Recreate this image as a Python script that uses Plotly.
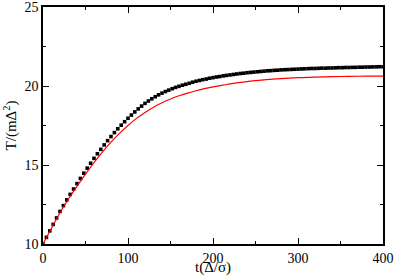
import plotly.graph_objects as go

# black squares (simulation), t step 4
t_black = list(range(0, 401, 4))
T_black = [
    10.00, 10.42, 10.83, 11.24, 11.65, 12.06, 12.43, 12.79, 13.14, 13.48,
    13.82, 14.15, 14.48, 14.80, 15.11, 15.42, 15.71, 15.99, 16.27, 16.54,
    16.80, 17.05, 17.29, 17.52, 17.74, 17.96, 18.16, 18.36, 18.55, 18.73,
    18.90, 19.05, 19.19, 19.32, 19.44, 19.55, 19.65, 19.74, 19.83, 19.91,
    19.98, 20.05, 20.11, 20.17, 20.24, 20.30, 20.35, 20.40, 20.44, 20.49,
    20.53, 20.57, 20.60, 20.64, 20.67, 20.70, 20.73, 20.76, 20.79, 20.81,
    20.84, 20.86, 20.88, 20.90, 20.92, 20.94, 20.96, 20.97, 20.99, 21.00,
    21.02, 21.03, 21.04, 21.05, 21.06, 21.07, 21.08, 21.09, 21.10, 21.11,
    21.11, 21.12, 21.13, 21.13, 21.14, 21.14, 21.15, 21.16, 21.16, 21.17,
    21.17, 21.18, 21.18, 21.19, 21.19, 21.20, 21.20, 21.21, 21.21, 21.22,
    21.22,
]

# red line (theory)
t_red = [0, 10, 20, 30, 40, 50, 60, 70, 80, 90, 100, 110, 120, 130, 140, 150, 160, 170,
         180, 190, 200, 210, 220, 230, 240, 250, 260, 270, 280, 290, 300, 320, 340, 360, 380, 400]
T_red = [10.00, 11.00, 11.98, 12.85, 13.65, 14.42, 15.15, 15.83, 16.45, 17.00, 17.50,
         17.95, 18.33, 18.66, 18.94, 19.18, 19.38, 19.55, 19.70, 19.83, 19.94, 20.04,
         20.13, 20.21, 20.28, 20.34, 20.39, 20.43, 20.47, 20.50, 20.53, 20.56, 20.59,
         20.61, 20.62, 20.63]

x_ticks = [0, 100, 200, 300, 400]
y_ticks = [10, 15, 20, 25]

fig = go.Figure()
fig.add_trace(go.Scatter(x=t_black, y=T_black, mode="markers",
                         marker=dict(symbol="square", size=3.6, color="black", line=dict(width=0)),
                         showlegend=False))
fig.add_trace(go.Scatter(x=t_red, y=T_red, mode="lines",
                         line=dict(color="#ff0000", width=1.2, shape="spline"),
                         showlegend=False))

font = dict(family="Liberation Serif", size=14, color="black")
axis_common = dict(showline=True, linecolor="black", linewidth=1.5, mirror="allticks",
                   ticks="inside", ticklen=6, tickwidth=1.2, tickcolor="black",
                   showgrid=False, zeroline=False, tickfont=font,
                   automargin=False, ticklabeloverflow="allow")
fig.update_xaxes(range=[0, 400], tickvals=x_ticks, ticktext=[str(v) for v in x_ticks],
                 minor=dict(dtick=50, tick0=0, ticks="inside", ticklen=3, tickwidth=1.2, tickcolor="black"),
                 title=dict(text="t(Δ/σ)", font=dict(family="Liberation Serif", size=15, color="black"), standoff=7),
                 **axis_common)
fig.update_yaxes(range=[10, 25], tickvals=y_ticks, ticktext=[str(v) for v in y_ticks],
                 minor=dict(dtick=2.5, tick0=10, ticks="inside", ticklen=3, tickwidth=1.2, tickcolor="black"),
                 title=dict(text="T/(mΔ<sup>2</sup>)", font=dict(family="Liberation Serif", size=15, color="black"), standoff=4),
                 **axis_common)
fig.update_layout(width=395, height=276, margin=dict(l=43, r=12, t=7, b=32),
                  plot_bgcolor="white", paper_bgcolor="white", font=font)
fig.write_html("out.html", config={"displayModeBar": False},
               post_script="document.body.style.margin='0';document.body.style.overflow='hidden';")
